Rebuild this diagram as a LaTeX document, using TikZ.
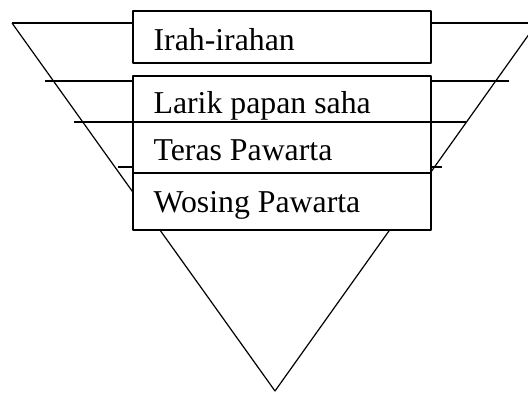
\documentclass[tikz,border=0pt]{standalone}
\usepackage{fontspec}
\setmainfont{Liberation Serif}
\begin{document}
\begin{tikzpicture}[x=1pt, y=-1pt, font=\fontsize{31.8}{38}\selectfont, line join=round, line width=1.2pt,
	kotak/.style={draw, fill=white, inner sep=0pt, minimum width=298pt},
	tulisan/.style={anchor=base west, inner sep=0pt}]
				\useasboundingbox (0,0) rectangle (528,392);
				\draw (12,23)--(537,23);
				\draw (12,23)--(275,391)--(537,23);
				\draw (45,81)--(509,81);
				\draw (118,167)--(442,167);
				\node[kotak, minimum height=52pt] (irah) at (282,37) {};
				\node[kotak, minimum height=154pt] (isi) at (282,153) {};
				\draw (74,122)--(466,122);
				\draw (133,173)--(431,173);
				\node[tulisan] (judul) at (153,50) {Irah-irahan};
				\node[tulisan] (larik) at (153,113) {Larik papan saha};
				\node[tulisan] (teras) at (153,160) {Teras Pawarta};
				\node[tulisan] (wosing) at (153,212) {Wosing Pawarta};
			\end{tikzpicture}
\end{document}
